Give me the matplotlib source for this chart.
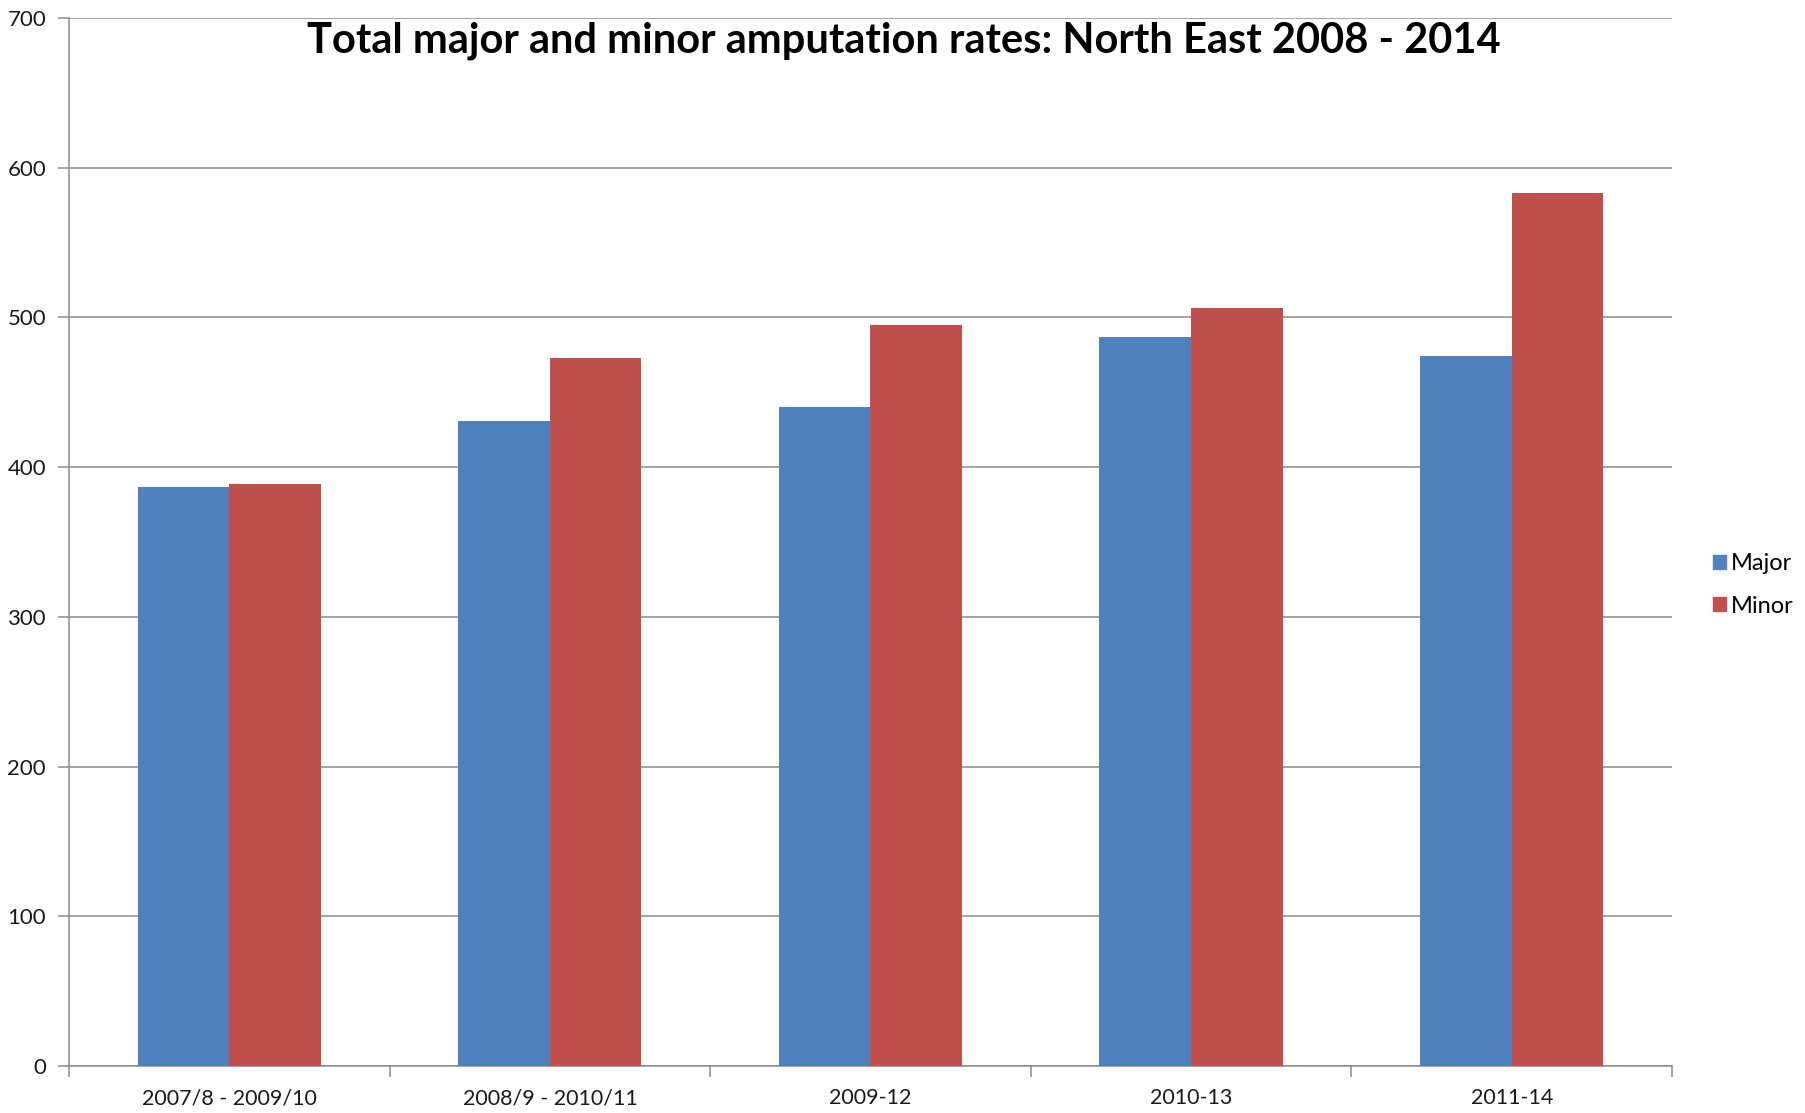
import numpy as np
import matplotlib.pyplot as plt
from matplotlib.patches import Patch

# Data
periods = ['2007/8 - 2009/10', '2008/9 - 2010/11', '2009-12', '2010-13', '2011-14']
major = [387, 431, 440, 487, 474]
minor = [389, 473, 495, 506, 583]

blue = '#4F81BD'
red = '#C0504D'
grid_grey = '#8C8C8C'

plt.rcParams['font.family'] = ['Lato', 'DejaVu Sans']

fig = plt.figure(figsize=(18.06, 11.13), dpi=100)
ax = fig.add_axes([0.0382, 0.0422, 0.8876, 0.9416])

x = np.arange(len(periods))
w = 1 / 3.5  # Excel gap width 150%
ax.bar(x - w / 2, major, width=w, color=blue, label='Major', zorder=3)
ax.bar(x + w / 2, minor, width=w, color=red, label='Minor', zorder=3)

ax.set_xlim(-0.5, len(periods) - 0.5)
ax.set_ylim(0, 700)
ax.set_yticks(np.arange(0, 701, 100))
ax.yaxis.grid(True, color=grid_grey, linewidth=1.1, zorder=0)

# ticks at category boundaries, labels at centres
ax.set_xticks(np.arange(-0.5, len(periods), 1.0))
ax.set_xticklabels([])
ax.set_xticks(x, minor=True)
ax.set_xticklabels(periods, minor=True)
ax.tick_params(axis='x', which='major', length=8, width=1.1, color=grid_grey, direction='out')
ax.tick_params(axis='x', which='minor', length=0, pad=16, labelsize=15.5, labelcolor='#1a1a1a')
ax.tick_params(axis='y', length=8, width=1.1, color=grid_grey, pad=8.5, labelsize=16, labelcolor='#1a1a1a')

for s in ['top', 'right']:
    ax.spines[s].set_visible(False)
for s in ['left', 'bottom']:
    ax.spines[s].set_color(grid_grey)
    ax.spines[s].set_linewidth(1.1)

fig.text(904 / 1806, 1 - 41 / 1113, 'Total major and minor amputation rates: North East 2008 - 2014',
         ha='center', va='center', fontsize=30, fontweight='bold', color='black')

handles = [Patch(color=blue, label='Major'), Patch(color=red, label='Minor')]
fig.legend(handles=handles, loc='center left', bbox_to_anchor=(1713 / 1806, 1 - 585 / 1113),
           frameon=False, fontsize=17, handlelength=0.55, handleheight=0.55,
           handletextpad=0.22, labelspacing=0.9, borderpad=0, borderaxespad=0)

fig.savefig('out.png', dpi=100)
